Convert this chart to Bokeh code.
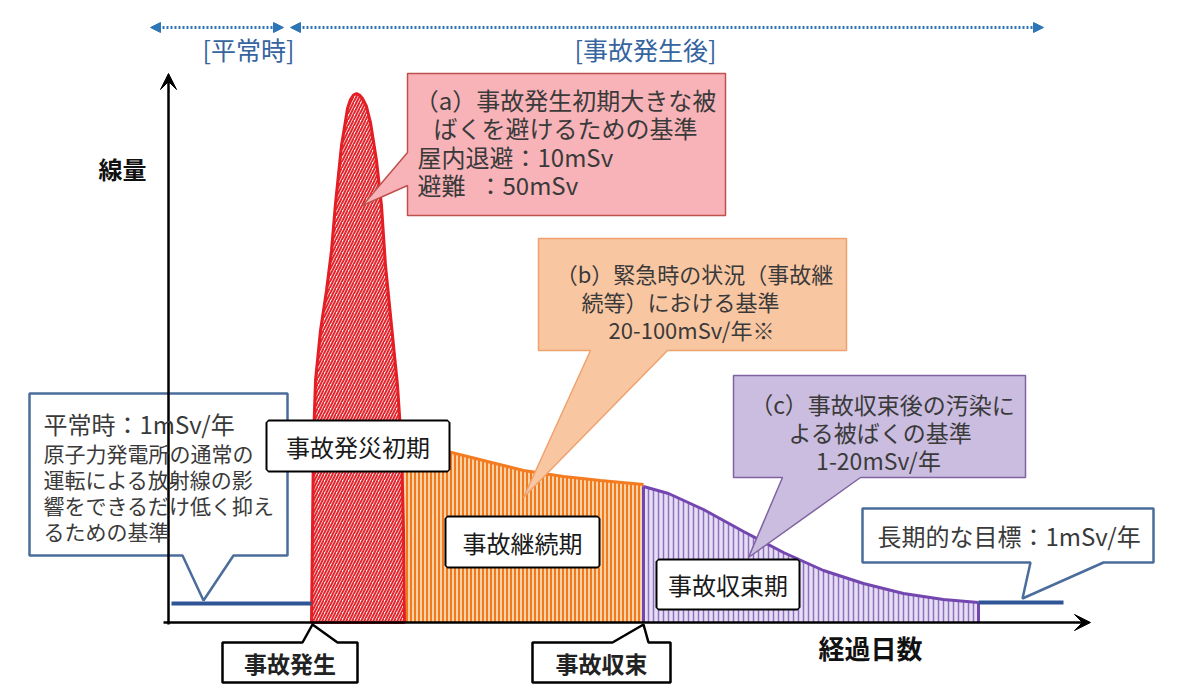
from bokeh.plotting import figure
from bokeh.models import Range1d, Label, Arrow, VeeHead, NormalHead
from bokeh.embed import file_html
from bokeh.resources import INLINE

# ---------------- data (elapsed days, dose level; arbitrary units) ----------------
normal_day = [0.3, 14.3]
normal_dose = [1.9, 1.9]

peak_day = [14.3, 14.4, 14.5, 14.7, 15.2, 15.8, 16.3, 16.7, 17.3, 17.9, 18.2, 18.5,
            18.8, 19.1, 19.4, 19.8, 20.2, 20.8, 21.3, 21.7, 22.3, 22.9, 23.3, 23.5, 23.6]
peak_dose = [0, 9.2, 18.2, 24.2, 29.2, 33.2, 37.2, 41.9, 47.7, 51.4, 52.3, 52.75,
             52.9, 52.75, 52.4, 51.6, 50.0, 46.2, 41.7, 35.7, 29.7, 23.7, 17.7, 9.2, 0]

cont_day = [23.5, 27.9, 31.5, 35.5, 39.5, 43.2, 47.5]
cont_dose = [17.6, 17.1, 16.2, 15.2, 14.6, 14.2, 13.8]

conv_day = [47.5, 50.0, 53.5, 57.5, 61.5, 65.5, 69.5, 73.5, 77.5, 81.0]
conv_dose = [13.6, 12.9, 11.3, 9.1, 7.0, 5.2, 3.9, 2.9, 2.3, 2.0]

goal_day = [81.0, 89.5]
goal_dose = [2.0, 2.0]

# ---------------- layout helpers (reference pixel -> data units) ----------------
OX, OY, S = 168.0, 622.0, 10.0
def sx(X): return (X - OX) / S
def sy(Y): return (OY - Y) / S

FONT = "Noto Sans CJK JP"
W, H = 1184, 695

p = figure(width=W, height=H, output_backend="svg", toolbar_location=None,
           x_range=Range1d(sx(0), sx(W)), y_range=Range1d(sy(H), sy(0)),
           x_axis_location=None, y_axis_location=None, min_border=0,
           background_fill_color="white", border_fill_color="white")
p.grid.visible = False
p.outline_line_color = None

def label(X, Y, text, size, color="#3a3a3a", align="left", bold=False):
    p.add_layout(Label(x=sx(X), y=sy(Y), text=text, text_font=FONT,
                       text_font_size=f"{size}px", text_color=color,
                       text_align=align, text_baseline="middle",
                       text_font_style="bold" if bold else "normal"))

def callout(x0, y0, x1, y1, edge, a, b, tip):
    if edge == "bottom":
        pts = [(x0, y0), (x1, y0), (x1, y1), (b, y1), tip, (a, y1), (x0, y1)]
    elif edge == "left":
        pts = [(x0, y0), (x1, y0), (x1, y1), (x0, y1), (x0, b), tip, (x0, a)]
    else:  # top
        pts = [(x0, y0), (a, y0), tip, (b, y0), (x1, y0), (x1, y1), (x0, y1)]
    return [sx(P[0]) for P in pts], [sy(P[1]) for P in pts]

# ---------------- top period arrows ----------------
BLUE = "#2e75b6"
for xa, xb in [(150, 283), (290, 1043)]:
    p.add_layout(Arrow(start=NormalHead(size=10, fill_color=BLUE, line_color=BLUE),
                       end=NormalHead(size=10, fill_color=BLUE, line_color=BLUE),
                       x_start=sx(xa), y_start=sy(27), x_end=sx(xb), y_end=sy(27),
                       line_color=BLUE, line_width=3, line_dash="2 2"))
label(248, 48, "[平常時]", 25, color="#35649f", align="center")
label(645, 48, "[事故発生後]", 25, color="#35649f", align="center")

# ---------------- dose regions ----------------
p.patch(cont_day + [cont_day[-1], cont_day[0]], cont_dose + [0, 0],
        fill_color="#fcd3a8", hatch_pattern="|", hatch_color="#f07a1c",
        hatch_scale=4, hatch_weight=2, line_color=None)
p.line(cont_day, cont_dose, line_color="#f47b20", line_width=3)

p.patch(conv_day + [conv_day[-1], conv_day[0]], conv_dose + [0, 0],
        fill_color="#e6def2", hatch_pattern="|", hatch_color="#8e6fc2",
        hatch_scale=5, hatch_weight=1.5, line_color=None)
p.line(conv_day, conv_dose, line_color="#7446b0", line_width=3)
p.line([conv_day[0], conv_day[0]], [0, conv_dose[0]], line_color="#7446b0", line_width=3)
p.line([conv_day[-1], conv_day[-1]], [0, conv_dose[-1]], line_color="#7446b0", line_width=3)

p.patch(peak_day, peak_dose, fill_color="#fff4f4", hatch_pattern="/",
        hatch_color="#e3262e", hatch_scale=6, hatch_weight=2,
        line_color="#e31e24", line_width=3)

p.line(normal_day, normal_dose, line_color="#2f5597", line_width=4)
p.line(goal_day, goal_dose, line_color="#2f5597", line_width=4)

# ---------------- axes ----------------
p.add_layout(Arrow(end=VeeHead(size=16, fill_color="black", line_color="black"),
                   x_start=sx(168), y_start=sy(624), x_end=sx(168), y_end=sy(73),
                   line_color="black", line_width=2.5))
p.add_layout(Arrow(end=VeeHead(size=16, fill_color="black", line_color="black"),
                   x_start=sx(163), y_start=sy(622), x_end=sx(1090), y_end=sy(622),
                   line_color="black", line_width=2.5))
label(146, 168, "線量", 24, color="#111111", align="right", bold=True)
label(870, 647, "経過日数", 26, color="#111111", align="center", bold=True)

# ---------------- callouts ----------------
xs, ys = callout(407, 73, 725, 215, "left", 152, 185, (362, 205))
p.patch(xs, ys, fill_color="#f7b3b8", line_color="#c0504d", line_width=1.5)
label(565, 99, "（a）事故発生初期大きな被", 24, align="center")
label(565, 127, "ばくを避けるための基準", 24, align="center")
label(417, 156, "屋内退避：10mSv", 24)
label(417, 184, "避難", 24)
label(478, 184, "：50mSv", 24)

xs, ys = callout(538, 238, 846, 350, "bottom", 590, 667, (523, 497))
p.patch(xs, ys, fill_color="#f9c6a2", line_color="#eea26e", line_width=1.5)
label(694, 272, "（b）緊急時の状況（事故継", 22, align="center")
label(680, 300, "続等）における基準", 22, align="center")
label(691, 328, "20-100mSv/年※", 22, align="center")

xs, ys = callout(733, 375, 1025, 477, "bottom", 782, 860, (748, 557))
p.patch(xs, ys, fill_color="#cbbde0", line_color="#8064a2", line_width=1.5)
label(882, 403, "（c）事故収束後の汚染に", 23, align="center")
label(880, 431, "よる被ばくの基準", 23, align="center")
label(878, 459, "1-20mSv/年", 23, align="center")

xs, ys = callout(29, 393, 287, 555, "bottom", 182, 233, (203, 600))
p.patch(xs, ys, fill_color="white", line_color="#4a6d9c", line_width=2.5)
label(43, 423, "平常時：1mSv/年", 24)
for i, t in enumerate(["原子力発電所の通常の", "運転による放射線の影",
                       "響をできるだけ低く抑え", "るための基準"]):
    label(43, 452 + 26 * i, t, 21)

xs, ys = callout(862, 508, 1153, 562, "bottom", 1030, 1103, (1022, 598))
p.patch(xs, ys, fill_color="white", line_color="#4a6d9c", line_width=2.5)
label(877, 535, "長期的な目標：1mSv/年", 24)

for (x0, x1, a, b, tip, txt) in [(222, 357, 302, 337, (312, 624), "事故発生"),
                                  (532, 670, 612, 648, (643, 624), "事故収束")]:
    xs, ys = callout(x0, 642, x1, 682, "top", a, b, tip)
    p.patch(xs, ys, fill_color="white", line_color="black", line_width=2.5)
    label((x0 + x1) / 2, 662, txt, 23, color="#222222", align="center", bold=True)

# ---------------- phase label boxes (double border) ----------------
for (x0, x1, y0, y1, txt) in [(268, 447, 422, 469, "事故発災初期"),
                              (447, 597, 518, 565, "事故継続期"),
                              (658, 797, 561, 607, "事故収束期")]:
    p.quad(left=sx(x0), right=sx(x1), top=sy(y0), bottom=sy(y1),
           fill_color="white", line_color="black", line_width=6)
    p.quad(left=sx(x0), right=sx(x1), top=sy(y0), bottom=sy(y1),
           fill_color="white", line_color="white", line_width=2)
    label((x0 + x1) / 2, (y0 + y1) / 2, txt, 24, color="#1a1a1a", align="center")

open("out.html", "w").write(file_html(p, INLINE))
